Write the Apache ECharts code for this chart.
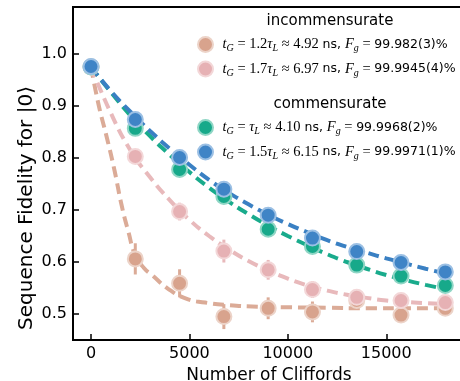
<!DOCTYPE html>
<html>
<head>
<meta charset="utf-8">
<script src="https://cdn.jsdelivr.net/npm/echarts@6/dist/echarts.min.js"></script>
<style>
	html, body { margin: 0; padding: 0; background: #fff; }
	#chart { width: 460px; height: 381px; }
</style>
</head>
<body>
<div id="chart"></div>
<script>
// measured points (number of Cliffords -> sequence fidelity)
const cliffords = [0, 2250, 4500, 6750, 9000, 11250, 13500, 15750, 18000];
const tanY = [0.975, 0.606, 0.559, 0.495, 0.511, 0.504, 0.526, 0.498, 0.511];
const tanErr = [0.004, 0.03, 0.027, 0.024, 0.021, 0.02, 0.01, 0.01, 0.01];
const pinkY = [0.975, 0.803, 0.697, 0.621, 0.585, 0.547, 0.532, 0.526, 0.522];
const pinkErr = [0.004, 0.01, 0.017, 0.022, 0.019, 0.016, 0.01, 0.008, 0.008];
const greenY = [0.975, 0.857, 0.778, 0.726, 0.663, 0.630, 0.594, 0.573, 0.555];
const greenErr = [0.003, 0.005, 0.005, 0.005, 0.005, 0.005, 0.005, 0.005, 0.005];
const blueY = [0.976, 0.874, 0.801, 0.740, 0.690, 0.646, 0.620, 0.599, 0.581];
const blueErr = [0.003, 0.005, 0.005, 0.005, 0.005, 0.005, 0.005, 0.005, 0.005];

// fitted curves
const tanFitX = [0, 400, 800, 1200, 1550, 1900, 2250, 2700, 3100, 3900, 4800, 5800, 7000, 8500, 10000, 12000, 14000, 16000, 18000];
const tanFit = [0.975, 0.9, 0.84, 0.775, 0.71, 0.658, 0.613, 0.588, 0.575, 0.549, 0.53, 0.522, 0.517, 0.514, 0.513, 0.512, 0.511, 0.511, 0.511];
const fitX = [0, 1000, 2000, 3000, 4000, 5000, 6000, 7000, 8000, 9000, 10000, 11000, 12000, 13000, 14000, 15000, 16000, 17000, 18000];
const pinkFit = [0.975, 0.887, 0.815, 0.763, 0.719, 0.681, 0.650, 0.624, 0.602, 0.584, 0.568, 0.555, 0.545, 0.537, 0.531, 0.526, 0.523, 0.521, 0.519];
const greenFit = [0.975, 0.927, 0.882, 0.842, 0.806, 0.773, 0.743, 0.716, 0.692, 0.670, 0.650, 0.632, 0.615, 0.600, 0.587, 0.575, 0.565, 0.556, 0.548];
const blueFit = [0.975, 0.929, 0.889, 0.852, 0.818, 0.787, 0.758, 0.733, 0.711, 0.691, 0.673, 0.657, 0.642, 0.629, 0.618, 0.607, 0.597, 0.587, 0.578];

const yTicks = [0.5, 0.6, 0.7, 0.8, 0.9, 1.0];
const xTicks = [0, 5000, 10000, 15000];

const legendText = {
	tan: '{it|t}{sub|G}{rm| = 1.2}{it|τ}{sub|L}{rm| ≈ 4.92}{sf| ns, }{it|F}{sub|g}{rm| = }{sf|99.982(3)%}',
	pink: '{it|t}{sub|G}{rm| = 1.7}{it|τ}{sub|L}{rm| ≈ 6.97}{sf| ns, }{it|F}{sub|g}{rm| = }{sf|99.9945(4)%}',
	green: '{it|t}{sub|G}{rm| = }{it|τ}{sub|L}{rm| ≈ 4.10}{sf| ns, }{it|F}{sub|g}{rm| = }{sf|99.9968(2)%}',
	blue: '{it|t}{sub|G}{rm| = 1.5}{it|τ}{sub|L}{rm| ≈ 6.15}{sf| ns, }{it|F}{sub|g}{rm| = }{sf|99.9971(1)%}'
};

const colors = {
	tan: { line: '#dbab97', fill: '#d8a38d', ring: '#ecd3c8' },
	pink: { line: '#e8b9bb', fill: '#e6b1b4', ring: '#f3d7d8' },
	green: { line: '#19ab8c', fill: '#17a98a', ring: '#8fd6c5' },
	blue: { line: '#3a80c3', fill: '#3f84c6', ring: '#9cc0e4' }
};

const rich = {
	it: { fontFamily: 'Liberation Serif', fontStyle: 'italic', fontSize: 14.5, lineHeight: 18, verticalAlign: 'middle' },
	rm: { fontFamily: 'Liberation Serif', fontSize: 14.5, lineHeight: 18, verticalAlign: 'middle' },
	sub: { fontFamily: 'Liberation Serif', fontStyle: 'italic', fontSize: 10, lineHeight: 10, verticalAlign: 'bottom' },
	sf: { fontFamily: 'DejaVu Sans', fontSize: 12.5, lineHeight: 18, verticalAlign: 'middle' }
};

function pts(xArr, yArr) {
	return xArr.map((x, i) => [x, yArr[i]]);
}

function fitSeries(key, xArr, yArr) {
	return {
		type: 'line',
		data: pts(xArr, yArr),
		smooth: 0.5,
		symbol: 'none',
		z: 1,
		silent: true,
		lineStyle: { color: colors[key].line, width: 4, type: [11, 6] }
	};
}

function errSeries(key, yArr, errArr) {
	return {
		type: 'custom',
		z: 2,
		silent: true,
		data: cliffords.map((x, i) => [x, yArr[i], errArr[i]]),
		renderItem: (params, api) => {
			const lo = api.coord([api.value(0), api.value(1) - api.value(2)]);
			const hi = api.coord([api.value(0), api.value(1) + api.value(2)]);
			return {
				type: 'line',
				shape: { x1: lo[0], y1: lo[1], x2: hi[0], y2: hi[1] },
				style: { stroke: colors[key].line, lineWidth: 3 }
			};
		}
	};
}

function pointSeries(key, yArr) {
	return {
		name: key,
		type: 'scatter',
		data: pts(cliffords, yArr),
		symbol: 'circle',
		symbolSize: 15,
		z: 3,
		itemStyle: { color: colors[key].fill, borderColor: colors[key].ring, borderWidth: 2, opacity: 1 }
	};
}

const legendBase = {
	orient: 'vertical',
	left: 197,
	icon: 'circle',
	itemWidth: 24,
	itemHeight: 15,
	itemGap: 7,
	padding: 0,
	formatter: (name) => legendText[name],
	textStyle: { color: '#000', rich: rich },
	selectedMode: false
};

const chart = echarts.init(document.getElementById('chart'), null, { renderer: 'canvas' });

chart.setOption({
	animation: false,
	backgroundColor: '#fff',
	grid: {
		left: 73,
		right: -5,
		top: 7,
		bottom: 41,
		show: true,
		borderColor: '#000',
		borderWidth: 2,
		containLabel: false,
		outerBoundsMode: 'none'
	},
	xAxis: {
		type: 'value',
		min: -915,
		max: 19000,
		name: 'Number of Cliffords',
		nameLocation: 'middle',
		nameGap: 25,
		nameTextStyle: { fontFamily: 'DejaVu Sans', fontSize: 17, color: '#000' },
		axisLine: { show: true, onZero: false, lineStyle: { color: '#000', width: 2 } },
		axisTick: { show: true, inside: true, length: 6, lineStyle: { color: '#000', width: 1.5 }, customValues: xTicks },
		axisLabel: { color: '#000', fontFamily: 'DejaVu Sans', fontSize: 16, margin: 6, customValues: xTicks, formatter: (v) => String(v) },
		splitLine: { show: false }
	},
	yAxis: {
		type: 'value',
		min: 0.45,
		max: 1.0904,
		axisLine: { show: true, onZero: false, lineStyle: { color: '#000', width: 2 } },
		axisTick: { show: true, inside: true, length: 6, lineStyle: { color: '#000', width: 1.5 }, customValues: yTicks },
		axisLabel: { color: '#000', fontFamily: 'DejaVu Sans', fontSize: 16, margin: 6, customValues: yTicks, formatter: (v) => v.toFixed(1) },
		splitLine: { show: false }
	},
	legend: [
		Object.assign({}, legendBase, { top: 36, data: ['tan', 'pink'] }),
		Object.assign({}, legendBase, { top: 119, data: ['green', 'blue'] })
	],
	graphic: [
		{ type: 'text', style: { text: 'incommensurate', x: 330, y: 21, align: 'center', verticalAlign: 'middle', fontFamily: 'DejaVu Sans', fontSize: 15, fill: '#000' } },
		{ type: 'text', style: { text: 'commensurate', x: 330, y: 104, align: 'center', verticalAlign: 'middle', fontFamily: 'DejaVu Sans', fontSize: 15, fill: '#000' } },
		{ type: 'text', x: 27, y: 208, rotation: Math.PI / 2, style: { text: 'Sequence Fidelity for |0⟩', x: 0, y: 0, align: 'center', verticalAlign: 'middle', fontFamily: 'DejaVu Sans', fontSize: 20, fill: '#000' } }
	],
	series: [
		fitSeries('tan', tanFitX, tanFit),
		fitSeries('pink', fitX, pinkFit),
		fitSeries('green', fitX, greenFit),
		fitSeries('blue', fitX, blueFit),
		errSeries('tan', tanY, tanErr),
		errSeries('pink', pinkY, pinkErr),
		errSeries('green', greenY, greenErr),
		errSeries('blue', blueY, blueErr),
		pointSeries('tan', tanY),
		pointSeries('pink', pinkY),
		pointSeries('green', greenY),
		pointSeries('blue', blueY)
	]
});
</script>
</body>
</html>
